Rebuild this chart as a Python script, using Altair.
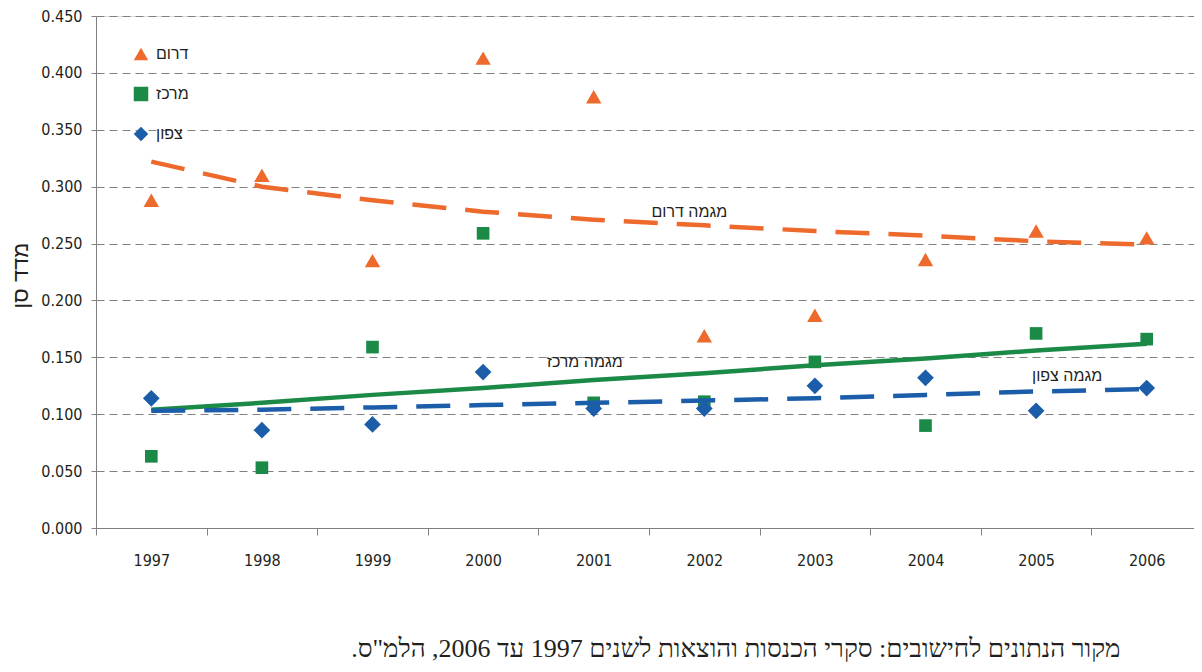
import altair as alt
import pandas as pd

# ---------------- data ----------------
years = ["1997", "1998", "1999", "2000", "2001", "2002", "2003", "2004", "2005", "2006"]
regions = ["דרום", "מרכז", "צפון"]

south = [0.288, 0.310, 0.235, 0.413, 0.379, 0.169, 0.187, 0.236, 0.261, 0.255]
center = [0.063, 0.053, 0.159, 0.259, 0.110, 0.111, 0.146, 0.090, 0.171, 0.166]
north = [0.114, 0.086, 0.091, 0.137, 0.105, 0.105, 0.125, 0.132, 0.103, 0.123]

south_trend = [0.322, 0.300, 0.288, 0.278, 0.271, 0.266, 0.261, 0.257, 0.252, 0.249]
center_trend = [0.104, 0.110, 0.117, 0.123, 0.130, 0.136, 0.143, 0.149, 0.156, 0.162]
north_trend = [0.103, 0.104, 0.106, 0.108, 0.110, 0.112, 0.114, 0.117, 0.120, 0.122]

trend_labels = ["מגמה דרום", "מגמה מרכז", "מגמה צפון"]
trend_label_years = ["2002", "2001", "2005"]
trend_label_values = [0.278, 0.146, 0.134]

y_ticks = [0.0, 0.05, 0.10, 0.15, 0.20, 0.25, 0.30, 0.35, 0.40, 0.45]
y_title = "מדד סן"
source_note = 'מקור הנתונים לחישובים: סקרי הכנסות והוצאות לשנים 1997 עד 2006, הלמ"ס.' + "\u200f"

# ---------------- styles ----------------
colors = ["#EE6A2C", "#1B8A47", "#1C5DAA"]
shapes = ["triangle-up", "square", "diamond"]
marker_sizes = [240, 160, 280]
label_dx = [-15, -9, 31]
FONT_HE = "Liberation Sans"
FONT_NUM = "DejaVu Sans Condensed"
TXT = "#231f20"
GRAY = "#808080"

PLOT_W = 1098      # visible plot width (chart must fit the page)
RANGE_W = 1106     # x range runs past the right edge, as in the original

# ---------------- encodings ----------------
x_enc = alt.X(
    "year:O",
    scale=alt.Scale(type="band", domain=years, paddingInner=0, paddingOuter=0,
                    range=[0, RANGE_W]),
    axis=alt.Axis(
        title=None, labelAngle=0, tickBand="extent", tickSize=7, labelPadding=17,
        grid=False, domainColor=GRAY, tickColor=GRAY, labelFont=FONT_NUM,
        labelFontSize=16, labelColor=TXT,
    ),
)
y_enc = alt.Y(
    "value:Q",
    scale=alt.Scale(domain=[0, 0.45], nice=False, zero=True),
    axis=alt.Axis(
        values=y_ticks, format=".3f", title=y_title, titleFont=FONT_HE,
        titleFontSize=22, titleFontWeight="normal", titleColor=TXT,
        titleX=-76, titleY=259, titleAngle=270, titleAlign="center", titleBaseline="middle",
        grid=True, gridDash=[8, 5], gridColor=GRAY, gridWidth=1,
        tickSize=5, tickColor=GRAY, domainColor=GRAY, labelPadding=9,
        labelFont=FONT_NUM, labelFontSize=16, labelColor=TXT,
    ),
)

legend = alt.Legend(
    title=None, orient="none", legendX=37, legendY=30, padding=0,
    labelFont=FONT_HE, labelFontSize=16, labelColor=TXT, labelOffset=7,
    symbolSize=210, symbolStrokeWidth=0, symbolOpacity=1, rowPadding=24,
)
color_enc = alt.Color("region:N", scale=alt.Scale(domain=regions, range=colors), legend=legend)
shape_enc = alt.Shape("region:N", scale=alt.Scale(domain=regions, range=shapes), legend=legend)

point_layers = []
for reg, vals, sz in zip(regions, [south, center, north], marker_sizes):
    df = pd.DataFrame({"year": years, "region": [reg] * len(years), "value": vals})
    point_layers.append(
        alt.Chart(df).mark_point(filled=True, opacity=1, size=sz).encode(
            x=x_enc, y=y_enc, color=color_enc, shape=shape_enc
        )
    )


def trend(values, color, dash):
    df = pd.DataFrame({"year": years, "value": values})
    kw = dict(color=color, strokeWidth=4.5, strokeCap="butt")
    if dash:
        kw["strokeDash"] = [34, 19]
    return alt.Chart(df).mark_line(**kw).encode(x=alt.X("year:O"), y=alt.Y("value:Q"))


lines = [
    trend(south_trend, colors[0], True),
    trend(center_trend, colors[1], False),
    trend(north_trend, colors[2], True),
]

texts = []
for lab, yr, val, dx in zip(trend_labels, trend_label_years, trend_label_values, label_dx):
    df = pd.DataFrame({"year": [yr], "value": [val], "label": [lab]})
    texts.append(
        alt.Chart(df).mark_text(
            font=FONT_HE, fontSize=16, color=TXT, align="center", baseline="middle", dx=dx
        ).encode(x=alt.X("year:O"), y=alt.Y("value:Q"), text="label:N")
    )

chart = alt.layer(*point_layers, *lines, *texts).properties(
    width=PLOT_W,
    height=512,
    autosize=alt.AutoSizeParams(type="none"),
    padding={"left": 88, "top": 8, "right": 0, "bottom": 136},
    title=alt.TitleParams(
        text=source_note, orient="bottom", anchor="end", dx=-82, offset=68,
        font="Liberation Serif", fontSize=26, fontWeight="normal", color=TXT,
    ),
).configure_view(stroke=None).configure(background="white")

chart.save("out.html", embed_options={"renderer": "svg", "actions": False})
